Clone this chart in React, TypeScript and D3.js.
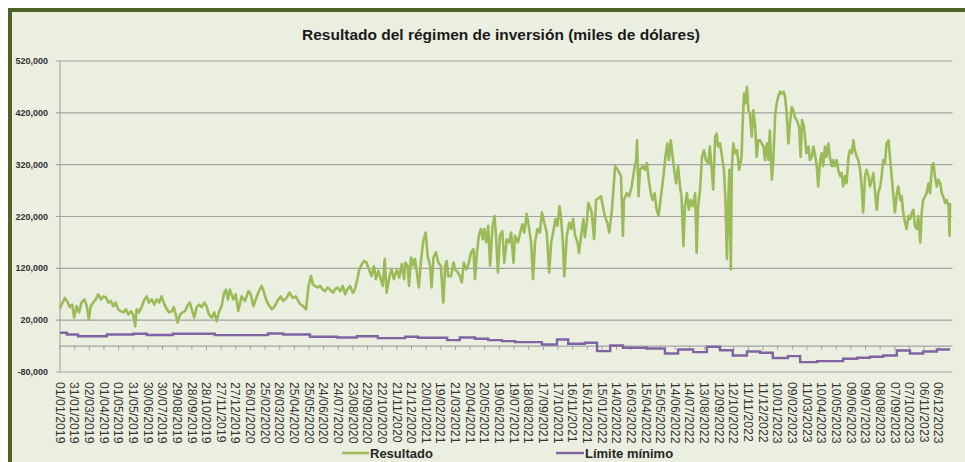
import React from "react";
import * as d3 from "d3";

const W = 965;
const H = 462;

const titulo = "Resultado del régimen de inversión (miles de dólares)";
const serieNombres = ["Resultado", "Límite mínimo"];

// Fecha de inicio del eje y último día (días desde el inicio)
const FECHA_INICIO = "01/01/2019";
const DIA_FINAL = 1825;

const tickLabels = [
  "01/01/2019", "31/01/2019", "02/03/2019", "01/04/2019", "01/05/2019", "31/05/2019",
  "30/06/2019", "30/07/2019", "29/08/2019", "28/09/2019", "28/10/2019", "27/11/2019",
  "27/12/2019", "26/01/2020", "25/02/2020", "26/03/2020", "25/04/2020", "25/05/2020",
  "24/06/2020", "24/07/2020", "23/08/2020", "22/09/2020", "22/10/2020", "21/11/2020",
  "21/12/2020", "20/01/2021", "19/02/2021", "21/03/2021", "20/04/2021", "20/05/2021",
  "19/06/2021", "19/07/2021", "18/08/2021", "17/09/2021", "17/10/2021", "16/11/2021",
  "16/12/2021", "15/01/2022", "14/02/2022", "16/03/2022", "15/04/2022", "15/05/2022",
  "14/06/2022", "14/07/2022", "13/08/2022", "12/09/2022", "12/10/2022", "11/11/2022",
  "11/12/2022", "10/01/2023", "09/02/2023", "11/03/2023", "10/04/2023", "10/05/2023",
  "09/06/2023", "09/07/2023", "08/08/2023", "07/09/2023", "07/10/2023", "06/11/2023",
  "06/12/2023",
];

const yTicks = [-80000, 20000, 120000, 220000, 320000, 420000, 520000];
const Y_MIN = -80000;
const Y_MAX = 520000;
const EJE_X_CRUCE = -30000;

// Resultado: días desde 01/01/2019 y valor (miles de dólares)
const resultadoDias = [
  0, 3, 10, 16, 20, 25, 29, 34, 39, 44, 50, 55, 59, 63, 68, 73, 78, 84, 89, 94, 99, 104, 109, 114, 119,
  125, 130, 135, 140, 145, 150, 154, 157, 162, 167, 173, 178, 182, 188, 193, 198, 203, 208, 214, 219,
  223, 229, 233, 237, 241, 246, 251, 256, 262, 266, 271, 275, 280, 285, 290, 296, 300, 305, 311, 316,
  321, 326, 331, 336, 340, 344,
  348, 355, 360, 365, 372, 379, 386, 391, 396, 401, 406, 413, 416, 422, 427, 434, 440, 447, 452, 457,
  464, 470, 477, 483, 488, 493, 498, 504, 509, 514, 518, 522, 527, 533, 538, 543, 548, 553, 559, 563,
  568, 574, 579, 584, 588, 594, 600, 604, 609, 613, 618, 623, 628, 634, 638, 643, 647, 652, 657, 661,
  665, 669, 675, 679, 684, 690, 695, 700, 705,
  707, 712, 715, 719, 724, 727, 731, 735, 739, 744, 749, 753, 758, 761, 765, 770, 775, 780, 785, 789,
  792, 795, 801, 806, 809, 815, 819, 823, 827, 832, 836, 842, 847, 850, 854, 858, 862, 866, 869, 873,
  877, 881, 886, 890, 893, 897, 901, 906, 910, 915, 920, 924, 929, 932, 938, 942, 947, 951, 956, 959,
  965, 969, 973, 978, 983, 987, 992, 997, 1002, 1006, 1010, 1015, 1019, 1023, 1026, 1030, 1033, 1038,
  1043, 1047, 1051, 1055, 1060, 1063, 1067, 1072, 1075,
  1079, 1082, 1086, 1089, 1094, 1098, 1103, 1108, 1112, 1116, 1121, 1125, 1130, 1133, 1137, 1142, 1146,
  1149, 1153, 1155, 1161, 1166, 1171, 1176, 1180, 1182, 1185, 1188, 1194, 1198, 1202, 1206, 1210, 1214,
  1218, 1222, 1226, 1230, 1236, 1240, 1244, 1247, 1251, 1254, 1258, 1262, 1266, 1270, 1273, 1277, 1280,
  1284, 1288, 1292, 1296, 1301, 1304, 1307, 1311, 1315, 1319, 1323, 1328, 1331, 1335, 1338, 1342, 1345,
  1348, 1352, 1355, 1360, 1363, 1366, 1369, 1371, 1374, 1376, 1379, 1383, 1387, 1391, 1396, 1398, 1401,
  1404, 1407, 1410, 1413, 1417, 1420, 1424, 1427, 1430,
  1434, 1441, 1444, 1448, 1451, 1454, 1458, 1461, 1465, 1468, 1471, 1475, 1478, 1482, 1485, 1488, 1492,
  1495, 1499, 1502, 1505, 1509, 1514, 1517, 1520, 1524, 1527, 1529, 1533, 1536, 1540, 1543, 1546, 1550,
  1553, 1557, 1560, 1563, 1567, 1570, 1574, 1577, 1581, 1584, 1587, 1591, 1594, 1598, 1601, 1604, 1608,
  1611, 1615, 1618, 1622, 1625, 1628, 1632, 1635, 1639, 1642, 1645, 1649, 1652, 1656, 1659, 1663, 1666,
  1669, 1673, 1676, 1680, 1683, 1686, 1690, 1693, 1697, 1700, 1704, 1707, 1710, 1714, 1717, 1721, 1724,
  1727, 1731, 1734, 1738, 1741, 1745, 1748, 1751, 1755, 1758, 1762, 1765, 1768, 1772, 1775, 1779, 1782,
  1786, 1789, 1792, 1796, 1799, 1803, 1806, 1809, 1813, 1816, 1820, 1822, 1823,
];

const resultadoValores = [
  42000, 50000, 63000, 54000, 45000, 50000, 25000, 47000, 35000, 54000, 60000, 47000, 21000, 47000, 54000, 60000, 70000, 60000, 66000, 64000, 54000, 57000, 47000, 54000, 41000,
  37000, 35000, 41000, 31000, 37000, 31000, 8000, 41000, 35000, 45000, 60000, 66000, 54000, 60000, 50000, 60000, 54000, 66000, 50000, 41000,
  35000, 37000, 45000, 31000, 15000, 31000, 35000, 37000, 50000, 54000, 37000, 25000, 45000, 50000, 45000, 54000, 47000, 31000, 25000, 35000,
  18000, 37000, 47000, 73000, 79000, 60000,
  79000, 60000, 70000, 38000, 66000, 57000, 76000, 70000, 47000, 60000, 73000, 86000, 79000, 60000, 50000, 41000, 47000, 60000, 66000, 57000,
  63000, 73000, 63000, 66000, 57000, 50000, 47000, 41000, 86000, 105000, 89000, 86000, 83000, 86000, 79000, 76000, 83000, 79000, 73000, 79000,
  83000, 76000, 86000, 70000, 79000, 86000, 73000, 79000, 99000, 118000, 128000, 134000, 131000, 115000, 105000, 124000, 99000, 115000, 99000, 86000,
  138000, 73000, 105000, 118000, 99000, 118000, 102000, 128000, 99000,
  131000, 125000, 86000, 141000, 125000, 138000, 112000, 83000, 131000, 173000, 189000, 144000, 125000, 83000, 141000, 151000, 131000, 125000, 54000, 125000,
  134000, 105000, 105000, 131000, 118000, 112000, 105000, 93000, 131000, 118000, 125000, 151000, 157000, 99000, 151000, 183000, 196000, 176000, 196000, 170000,
  202000, 125000, 202000, 221000, 183000, 112000, 183000, 192000, 131000, 176000, 170000, 189000, 131000, 183000, 170000, 186000, 205000, 189000, 225000, 208000,
  170000, 99000, 170000, 196000, 189000, 228000, 208000, 189000, 112000, 170000, 189000, 215000, 202000, 240000, 221000, 170000, 105000, 183000,
  208000, 196000, 215000, 183000, 170000, 150000, 180000, 215000, 180000,
  208000, 246000, 237000, 228000, 176000, 252000, 255000, 259000, 240000, 221000, 208000, 189000, 228000, 265000, 317000, 310000, 304000,
  298000, 183000, 252000, 265000, 259000, 278000, 310000, 329000, 367000, 259000, 310000, 317000, 310000, 323000, 291000, 265000, 252000,
  265000, 233000, 221000, 252000, 298000, 335000, 361000, 329000, 367000, 342000, 310000, 284000, 317000, 278000, 259000, 163000, 240000,
  265000, 233000, 252000, 240000, 265000, 150000, 240000, 272000, 335000, 348000, 329000, 323000, 355000, 310000, 272000, 374000, 380000,
  355000, 361000, 342000, 310000, 252000, 138000, 252000, 310000, 118000, 310000, 361000, 342000, 348000, 310000, 335000, 393000, 457000,
  438000, 470000, 425000, 418000, 374000, 425000, 393000, 335000, 367000,
  367000, 355000, 329000, 361000, 329000, 386000, 291000, 329000, 418000, 438000, 451000, 461000, 457000, 461000, 451000, 425000, 361000,
  399000, 431000, 425000, 412000, 406000, 393000, 335000, 406000, 393000, 361000, 342000, 355000, 329000, 335000, 355000, 342000, 317000,
  278000, 329000, 342000, 317000, 355000, 335000, 361000, 335000, 317000, 329000, 317000, 329000, 310000, 298000, 304000, 278000, 298000,
  284000, 335000, 348000, 342000, 367000, 348000, 335000, 329000, 310000, 278000, 228000, 298000, 310000, 298000, 278000, 291000, 304000,
  272000, 233000, 265000, 278000, 298000, 329000, 323000, 361000, 367000, 335000, 291000, 259000, 228000, 265000, 278000, 252000, 259000,
  228000, 208000, 196000, 221000, 215000, 228000, 233000, 202000, 196000, 221000, 170000, 228000, 252000, 259000, 265000, 284000, 265000,
  317000, 323000, 298000, 278000, 291000, 284000, 265000, 259000, 246000, 252000, 240000, 183000, 246000,
];

// Límite mínimo: días desde 01/01/2019 en que cambia el nivel, y su valor
const limiteDias = [
  0, 14, 37, 96, 150, 178, 231, 317, 426, 457,
  512, 567, 608, 651, 707, 733, 793, 819, 850, 877,
  905, 932, 987, 1018, 1041, 1075, 1100, 1127, 1153, 1202,
  1239, 1266, 1297, 1325, 1352, 1378, 1407, 1434, 1460, 1491,
  1516, 1551, 1604, 1633, 1659, 1686, 1714, 1741, 1768, 1796,
  1823,
];
const limiteValores = [
  -4300, -7600, -10900, -7600, -6200, -8500, -6200, -8900, -5700, -7600,
  -12000, -13400, -10900, -14700, -12000, -14000, -18600, -13400, -15900, -18600,
  -20500, -22400, -26900, -17200, -25500, -23600, -39800, -28800, -33200, -34600,
  -44200, -36500, -41700, -31300, -37900, -48100, -40400, -42900, -52900, -49400,
  -61000, -59100, -54500, -52500, -50600, -48100, -38400, -44200, -40400, -36500,
  -36500,
];

const COLOR_RESULTADO = "#9BBB59";
const COLOR_LIMITE = "#8064A2";
const FONT = "'Liberation Sans', Arial, sans-serif";

export default function App() {
  const parse = d3.utcParse("%d/%m/%Y");
  const inicio = parse(FECHA_INICIO) as Date;
  const fin = d3.utcDay.offset(inicio, DIA_FINAL);

  const plotLeft = 60;
  const plotRight = 951;
  const plotTop = 61;
  const plotBottom = 372;

  const x = d3.scaleUtc().domain([inicio, fin]).range([plotLeft, plotRight]);
  const y = d3.scaleLinear().domain([Y_MIN, Y_MAX]).range([plotBottom, plotTop]);

  const fmt = d3
    .formatLocale({ decimal: ".", thousands: ",", grouping: [3], currency: ["", ""], minus: "-" })
    .format(",");

  const resultado = resultadoDias.map((d, i) => ({ date: d3.utcDay.offset(inicio, d), v: resultadoValores[i] }));
  const limite = limiteDias.map((d, i) => ({ date: d3.utcDay.offset(inicio, d), v: limiteValores[i] }));

  const lineRes = d3
    .line<{ date: Date; v: number }>()
    .x((d) => x(d.date))
    .y((d) => y(d.v))
    .curve(d3.curveLinear);
  const lineLim = d3
    .line<{ date: Date; v: number }>()
    .x((d) => x(d.date))
    .y((d) => y(d.v))
    .curve(d3.curveStepAfter);

  const ticks = tickLabels.map((t) => ({ label: t, date: parse(t) as Date }));
  const axisY = y(EJE_X_CRUCE);

  return (
    <svg
      width={W}
      height={H}
      style={{ position: "absolute", left: 0, top: 0, background: "#ffffff" }}
    >
      <rect x={10} y={10} width={W + 20} height={H + 20} fill="#EBEFE0" stroke="#4F6228" strokeWidth={4} />

      <text
        x={501}
        y={40}
        textAnchor="middle"
        fontFamily={FONT}
        fontWeight="bold"
        fontSize={15.5}
        fill="#1a1a1a"
      >
        {titulo}
      </text>

      {/* gridlines */}
      {yTicks.map((t) => (
        <line
          key={"g" + t}
          x1={plotLeft - 4}
          x2={plotRight + 1.5}
          y1={y(t)}
          y2={y(t)}
          stroke="#A3A3A3"
          strokeWidth={1.1}
        />
      ))}
      {yTicks.map((t) => (
        <text
          key={"yl" + t}
          x={48}
          y={y(t)}
          dy="0.35em"
          textAnchor="end"
          fontFamily={FONT}
          fontWeight="bold"
          fontSize={9}
          fill="#333"
        >
          {fmt(t)}
        </text>
      ))}

      {/* y axis line */}
      <line x1={plotLeft} x2={plotLeft} y1={plotTop} y2={plotBottom} stroke="#A3A3A3" strokeWidth={1.1} />

      {/* x axis line with ticks */}
      <line x1={plotLeft} x2={plotRight + 1.5} y1={axisY} y2={axisY} stroke="#A3A3A3" strokeWidth={1.1} />
      {ticks.map((t) => (
        <line
          key={"t" + t.label}
          x1={x(t.date)}
          x2={x(t.date)}
          y1={axisY}
          y2={axisY + 4}
          stroke="#A3A3A3"
          strokeWidth={1}
        />
      ))}
      {ticks.map((t) => {
        const tx = x(t.date);
        return (
          <text
            key={"xl" + t.label}
            transform={`translate(${tx},382) rotate(90)`}
            dy="0.35em"
            fontFamily={FONT}
            fontSize={12.3}
            fill="#333"
          >
            {t.label}
          </text>
        );
      })}

      {/* series */}
      <path d={lineLim(limite) || ""} fill="none" stroke={COLOR_LIMITE} strokeWidth={2.4} />
      <path
        d={lineRes(resultado) || ""}
        fill="none"
        stroke={COLOR_RESULTADO}
        strokeWidth={2.6}
        strokeLinejoin="round"
      />

      {/* legend */}
      <line x1={342} x2={369} y1={453} y2={453} stroke={COLOR_RESULTADO} strokeWidth={2.6} />
      <text x={370} y={453} dy="0.35em" fontFamily={FONT} fontWeight="bold" fontSize={13} fill="#262626">
        {serieNombres[0]}
      </text>
      <line x1={556} x2={584} y1={453} y2={453} stroke={COLOR_LIMITE} strokeWidth={2.4} />
      <text x={585} y={453} dy="0.35em" fontFamily={FONT} fontWeight="bold" fontSize={13} fill="#262626">
        {serieNombres[1]}
      </text>
    </svg>
  );
}
